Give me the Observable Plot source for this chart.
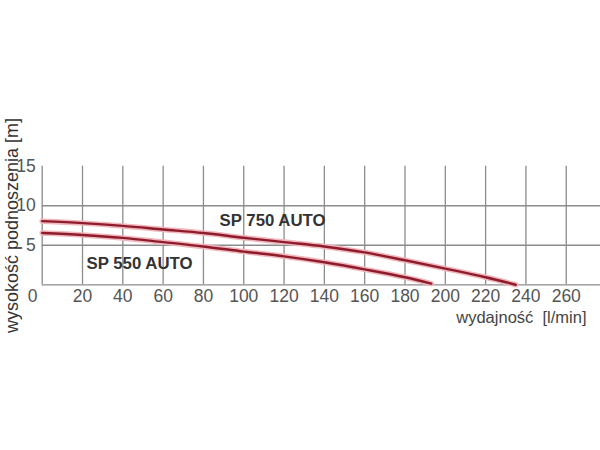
<!DOCTYPE html>
<html>
<head>
<meta charset="utf-8">
<script src="https://cdn.jsdelivr.net/npm/d3@7"></script>
<script src="https://cdn.jsdelivr.net/npm/@observablehq/plot@0.6"></script>
<style>
  html, body { margin: 0; padding: 0; background: #fff; }
  #chart svg { display: block; }
</style>
</head>
<body>
<div id="chart"></div>
<script>
// Data
const flowTicks = [20, 40, 60, 80, 100, 120, 140, 160, 180, 200, 220, 240, 260];
const gridX = [0, 20, 40, 60, 80, 100, 120, 140, 160, 180, 200, 220, 240, 260];
const headTicks = [5, 10, 15];
const gridY = [0, 5, 10];

const flow750 = [0, 20, 40, 60, 80, 100, 120, 140, 160, 180, 200, 220, 235];
const head750 = [8.05, 7.8, 7.45, 7.0, 6.55, 5.95, 5.4, 4.85, 4.1, 3.1, 2.05, 0.95, 0];
const flow550 = [0, 20, 40, 60, 80, 100, 120, 140, 160, 180, 193];
const head550 = [6.55, 6.3, 5.93, 5.4, 4.85, 4.2, 3.6, 2.85, 1.95, 0.95, 0.15];

const seriesNames = ["SP 750 AUTO", "SP 550 AUTO"];
const labelFlow = [88, 22];
const labelHead = [8.13, 2.66];

const xTitle = "wydajność\u00a0\u00a0[l/min]";
const yTitle = "wysokość podnoszenia [m]";

const pts750 = flow750.map((f, i) => ({flow: f, head: head750[i]}));
const pts550 = flow550.map((f, i) => ({flow: f, head: head550[i]}));
const labels = seriesNames.map((n, i) => ({name: n, flow: labelFlow[i], head: labelHead[i]}));

const gridColor = "#8c8c8c";
const coreColor = "#8e1c2c";
const haloColor = "#f0b7bd";

const chart = Plot.plot({
  width: 600,
  height: 450,
  marginLeft: 41.7,
  marginRight: 0,
  marginTop: 165.7,
  marginBottom: 165.7,
  style: {fontFamily: "'Liberation Sans', Arial, sans-serif", fontSize: "17px", color: "#555", background: "#fff"},
  x: {domain: [0, 277], label: null},
  y: {domain: [0, 15], label: null},
  marks: [
    Plot.ruleX(gridX, {y1: 0, y2: 15, stroke: gridColor, strokeWidth: 1.3}),
    Plot.ruleY(gridY, {x1: 0, x2: 277, stroke: gridColor, strokeWidth: 1.3}),
    Plot.line(pts750, {x: "flow", y: "head", stroke: haloColor, strokeWidth: 5.5, curve: "monotone-x"}),
    Plot.line(pts550, {x: "flow", y: "head", stroke: haloColor, strokeWidth: 5.5, curve: "monotone-x"}),
    Plot.line(pts750, {x: "flow", y: "head", stroke: coreColor, strokeWidth: 2.4, curve: "monotone-x"}),
    Plot.line(pts550, {x: "flow", y: "head", stroke: coreColor, strokeWidth: 2.4, curve: "monotone-x"}),
    Plot.axisX(flowTicks, {anchor: "bottom", tickSize: 0, tickPadding: 5, fontSize: 17.5, fill: "#555"}),
    Plot.axisY(headTicks, {anchor: "left", tickSize: 0, tickPadding: 6.5, fontSize: 17.5, fill: "#555"}),
    Plot.text([0], {x: d => d, y: 0, text: d => String(d), dx: -9.5, dy: 12, fontSize: 17.5, fill: "#555", textAnchor: "middle", lineAnchor: "middle"}),
    Plot.text(labels, {x: "flow", y: "head", text: "name", textAnchor: "start", lineAnchor: "middle", fontSize: 16.8, fontWeight: "bold", fill: "#333"}),
    Plot.text([xTitle], {frameAnchor: "bottom-right", dx: -14, dy: 32.5, textAnchor: "end", lineAnchor: "middle", fontSize: 16.5, fill: "#444"}),
    Plot.text([yTitle], {frameAnchor: "left", dx: -29.5, rotate: -90, textAnchor: "middle", lineAnchor: "middle", fontSize: 18, fill: "#333"})
  ]
});
document.getElementById("chart").appendChild(chart);
</script>
</body>
</html>
